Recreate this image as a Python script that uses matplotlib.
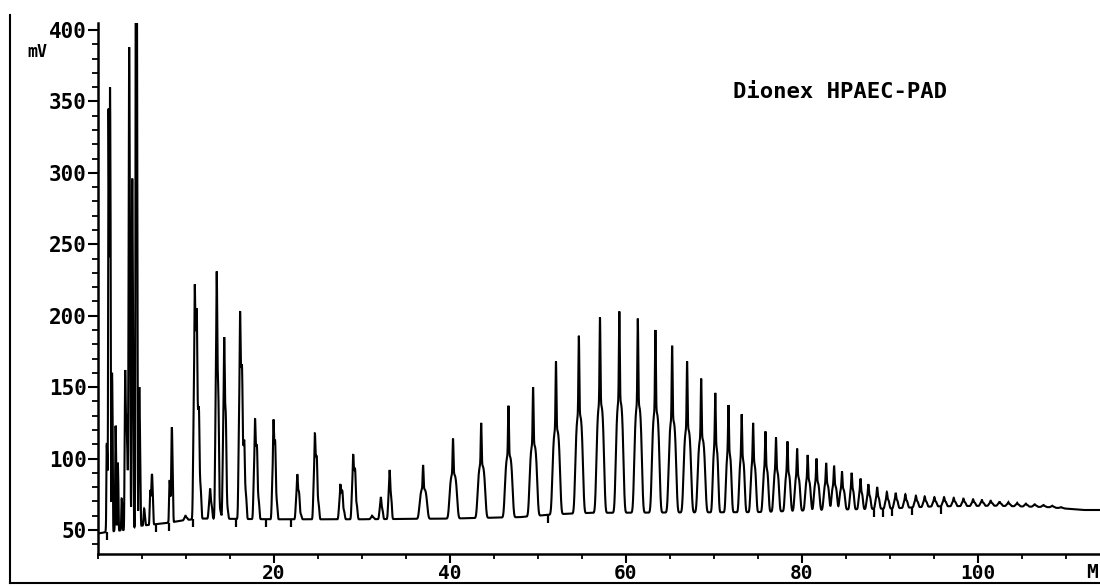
import numpy as np
import matplotlib
matplotlib.use("Agg")
import matplotlib.pyplot as plt
from matplotlib.lines import Line2D
from matplotlib.ticker import MultipleLocator

# ---- data ----
peak_times = [1.05, 1.25, 1.42, 1.65, 2.05, 2.3, 2.75, 3.15, 3.35, 3.6, 3.95, 4.4, 4.75,
              5.3, 6.0, 6.2, 8.2, 8.45, 10.0, 11.05, 11.3, 11.55, 12.8, 13.55, 13.8,
              14.4, 14.6, 16.2, 16.45, 16.7, 17.9, 18.15, 20.0, 20.2, 22.7, 22.95,
              24.7, 24.95, 27.6, 27.85, 29.05, 29.3, 31.2, 32.2, 33.2, 37.0, 40.4,
              43.6, 46.7, 49.5, 52.1, 54.7, 57.1, 59.3, 61.4, 63.4, 65.3, 67.0, 68.6,
              70.2, 71.7, 73.2, 74.5, 75.9, 77.1, 78.4, 79.5, 80.7, 81.7, 82.8, 83.7,
              84.6, 85.7, 86.7, 87.6, 88.6, 89.7, 90.7, 91.8, 93.0, 94.0, 95.1, 96.2,
              97.3, 98.4, 99.5, 100.5, 101.5, 102.5, 103.5, 104.5, 105.5, 106.5,
              107.5, 108.5, 109.5]
peak_apex_mv = [110, 345, 360, 160, 123, 97, 72, 162, 116, 388, 296, 650, 150,
                65, 78, 89, 85, 122, 60, 221, 199, 130, 79, 231, 115,
                185, 126, 203, 157, 110, 128, 104, 127, 111, 89, 73,
                118, 97, 82, 76, 103, 90, 60, 73, 92, 95.5, 114,
                125, 137, 150, 168, 186, 199, 203, 198, 190, 179, 168, 156,
                146, 137.5, 131, 125, 119, 115, 112, 107, 102.5, 100, 97, 95,
                91, 90, 86, 82, 80, 76.6, 76, 75, 74, 73.5, 73, 73,
                72.5, 72, 71.5, 71, 70.5, 70, 69.5, 69, 68.5, 68,
                67.5, 67, 66]
baseline_t = [0, 1, 3, 5, 8, 10, 12, 20, 30, 40, 48, 52, 56, 75, 82, 90, 95, 102, 108, 112, 114]
baseline_mv = [47.5, 48.5, 50, 53, 55, 57, 58, 57.5, 57.5, 58, 59, 61, 62, 62.5, 64, 65,
               66.5, 67, 66, 64, 64]
event_times = [1.1, 6.7, 8.1, 10.9, 15.7, 19.2, 22.0, 51.2, 88.2, 89.3, 90.3, 92.5, 95.9]

x_major = [20, 40, 60, 80, 100]
y_major = [50, 100, 150, 200, 250, 300, 350, 400]
title_text = "Dionex HPAEC-PAD"
y_unit = "mV"
x_unit = "M"

# ---- build trace: each peak = narrow apex spike + flat-topped body ----
t = np.arange(0.0, 114.0, 0.01)
base = np.interp(t, baseline_t, baseline_mv)
pt = np.array(peak_times)
apex = np.array(peak_apex_mv, dtype=float)
body_w = np.select([pt < 3, pt < 9, pt < 35, pt < 70, pt < 85],
                   [0.07, 0.11, 0.2, 0.4, 0.3], 0.24)


def shape(x, tc, w):
    return (0.45 * np.exp(-0.5 * ((x - tc) / 0.05) ** 2)
            + 0.55 * np.exp(-0.5 * np.abs((x - tc - 0.03) / w) ** 4))


# amplitudes such that the summed trace reaches each read apex value
M = np.array([[shape(ti, tj, wj) for tj, wj in zip(pt, body_w)] for ti in pt])
target = np.clip(apex - np.interp(pt, baseline_t, baseline_mv), 0.5, None)
amp = target.copy()
for _ in range(1500):
    amp *= (M.T @ target) / np.maximum(M.T @ (M @ amp), 1e-9)

signal = base.copy()
for tc, w, a in zip(pt, body_w, amp):
    signal += a * shape(t, tc, w)

mono = "DejaVu Sans Mono"
W, H = 1100, 586
fig = plt.figure(figsize=(W / 100, H / 100), dpi=100)
ax = fig.add_axes([97.5 / W, 32 / H, 1002.5 / W, 531 / H])
ax.plot(t, signal, color="black", lw=1.5, solid_joinstyle="miter")
eb = np.interp(event_times, baseline_t, baseline_mv)
ax.vlines(event_times, eb - 5.5, eb, color="black", lw=1.6)

ax.set_xlim(0, 1002.5 / 8.8)
ax.set_ylim(33.2, 404.9)
for s in ["top", "right"]:
    ax.spines[s].set_visible(False)
for s in ["left", "bottom"]:
    ax.spines[s].set_linewidth(1.8)
    ax.spines[s].set_color("black")

ax.set_xticks(x_major)
ax.set_yticks(y_major)
ax.xaxis.set_minor_locator(MultipleLocator(5))
ax.yaxis.set_minor_locator(MultipleLocator(10))
ax.tick_params(axis="x", which="major", direction="out", length=6.5, width=1.5,
               colors="black", pad=1)
ax.tick_params(axis="x", which="minor", direction="out", length=3.6, width=1.3,
               colors="black")
ax.tick_params(axis="y", which="major", direction="out", length=7.2, width=1.5,
               colors="black", pad=0.5)
ax.tick_params(axis="y", which="minor", direction="out", length=4.3, width=1.3,
               colors="black")
ax.set_xticklabels([str(v) for v in x_major], fontfamily=mono, fontweight="bold", fontsize=14)
ax.set_yticklabels([str(v) for v in y_major], fontfamily=mono, fontweight="bold", fontsize=15)

fig.text(733 / W, 1 - 92 / H, title_text, fontfamily=mono, fontweight="bold",
         fontsize=16, ha="left", va="center")
fig.text(27 / W, 1 - 52 / H, y_unit, fontfamily=mono, fontweight="bold",
         fontsize=12, ha="left", va="center")
fig.text(1086 / W, 1 - 572 / H, x_unit, fontfamily=mono, fontweight="bold",
         fontsize=14, ha="left", va="center")

# outer frame of the printout
fig.add_artist(Line2D([10 / W, 10 / W], [1 - 15 / H, 1 - 583 / H], color="black", lw=1.5))
fig.add_artist(Line2D([10 / W, 1.0], [1 - 583 / H, 1 - 583 / H], color="black", lw=1.5))

fig.savefig("out.png", dpi=100, facecolor="white")
